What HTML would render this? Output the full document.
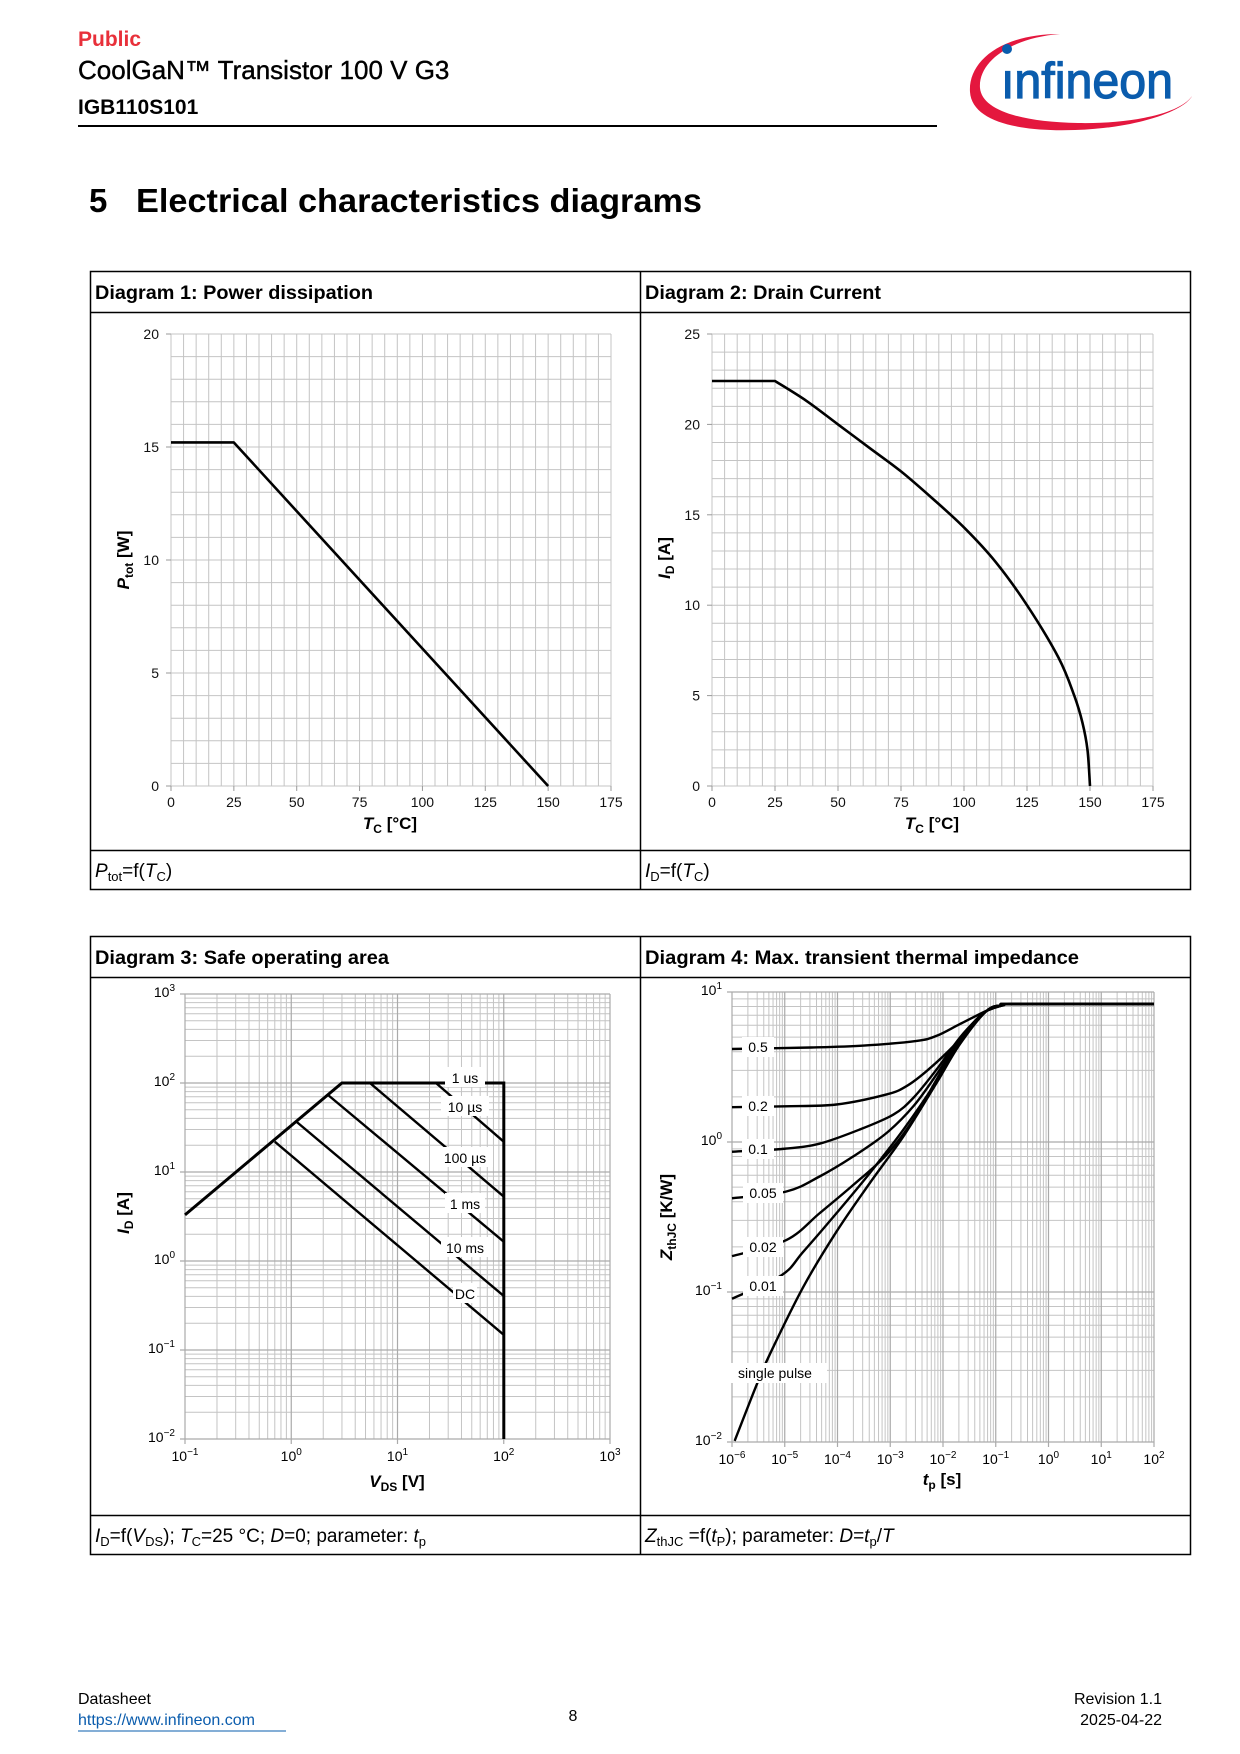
<!DOCTYPE html>
<html><head><meta charset="utf-8"><style>
html,body{margin:0;padding:0;background:#fff;}
svg{display:block;font-family:"Liberation Sans",sans-serif;}
</style></head><body>
<svg id="page" width="1240" height="1754" viewBox="0 0 1240 1754" xmlns="http://www.w3.org/2000/svg">
<text x="78" y="46" font-size="21" font-weight="bold" fill="#e8303a">Public</text>
<text x="78" y="79" font-size="26" fill="#000" stroke="#000" stroke-width="0.4">CoolGaN™ Transistor 100 V G3</text>
<text x="78" y="114" font-size="21" font-weight="bold" fill="#000">IGB110S101</text>
<line x1="78" y1="126" x2="937" y2="126" stroke="#000" stroke-width="2"/>
<g>
<path d="M1060,34 C1000,34 968,62 970,92 C972,122 1020,132 1075,130 C1140,128 1185,110 1192,96 C1180,114 1130,124 1078,123 C1020,122 982,110 980,88 C978,62 1010,38 1060,34 Z" fill="#e4173e"/>
<circle cx="1007" cy="49" r="5" fill="#0a5cad"/>
<text x="1001" y="98" font-size="50" fill="#0a5cad" stroke="#0a5cad" stroke-width="1.2" textLength="172" lengthAdjust="spacingAndGlyphs">ınfineon</text>
</g>
<text x="89" y="212" font-size="33" font-weight="bold">5</text>
<text x="136" y="212" font-size="33" font-weight="bold" textLength="566" lengthAdjust="spacingAndGlyphs">Electrical characteristics diagrams</text>

<g fill="none" stroke="#000" stroke-width="1.5">
<rect x="90.5" y="271.5" width="1100" height="618"/>
<line x1="640.5" y1="271" x2="640.5" y2="890"/>
<line x1="90" y1="312.5" x2="1190" y2="312.5"/>
<line x1="90" y1="850.5" x2="1190" y2="850.5"/>
</g>
<g fill="none" stroke="#000" stroke-width="1.5">
<rect x="90.5" y="936.5" width="1100" height="618"/>
<line x1="640.5" y1="936" x2="640.5" y2="1555"/>
<line x1="90" y1="977.5" x2="1190" y2="977.5"/>
<line x1="90" y1="1515.5" x2="1190" y2="1515.5"/>
</g>
<text x="95" y="299" font-size="19" font-weight="bold" textLength="278" lengthAdjust="spacingAndGlyphs">Diagram 1: Power dissipation</text>
<text x="645" y="299" font-size="19" font-weight="bold" textLength="236" lengthAdjust="spacingAndGlyphs">Diagram 2: Drain Current</text>
<text x="95" y="964" font-size="19" font-weight="bold" textLength="294" lengthAdjust="spacingAndGlyphs">Diagram 3: Safe operating area</text>
<text x="645" y="964" font-size="19" font-weight="bold" textLength="434" lengthAdjust="spacingAndGlyphs">Diagram 4: Max. transient thermal impedance</text>

<text x="95" y="877" font-size="19"><tspan font-style="italic">P</tspan><tspan font-size="13" dy="4">tot</tspan><tspan dy="-4">=f(</tspan><tspan font-style="italic">T</tspan><tspan font-size="13" dy="4">C</tspan><tspan dy="-4">)</tspan></text>
<text x="645" y="877" font-size="19"><tspan font-style="italic">I</tspan><tspan font-size="13" dy="4">D</tspan><tspan dy="-4">=f(</tspan><tspan font-style="italic">T</tspan><tspan font-size="13" dy="4">C</tspan><tspan dy="-4">)</tspan></text>
<text x="95" y="1542" font-size="19"><tspan font-style="italic">I</tspan><tspan font-size="13" dy="4">D</tspan><tspan dy="-4">=f(</tspan><tspan font-style="italic">V</tspan><tspan font-size="13" dy="4">DS</tspan><tspan dy="-4">); </tspan><tspan font-style="italic">T</tspan><tspan font-size="13" dy="4">C</tspan><tspan dy="-4">=25 °C; </tspan><tspan font-style="italic">D</tspan><tspan>=0; parameter: </tspan><tspan font-style="italic">t</tspan><tspan font-size="13" dy="4">p</tspan></text>
<text x="645" y="1542" font-size="19"><tspan font-style="italic">Z</tspan><tspan font-size="13" dy="4">thJC</tspan><tspan dy="-4"> =f(</tspan><tspan font-style="italic">t</tspan><tspan font-size="13" dy="4">P</tspan><tspan dy="-4">); parameter: </tspan><tspan font-style="italic">D</tspan><tspan>=</tspan><tspan font-style="italic">t</tspan><tspan font-size="13" dy="4">p</tspan><tspan dy="-4">/</tspan><tspan font-style="italic">T</tspan></text>

<text x="78" y="1704" font-size="16">Datasheet</text>
<text x="78" y="1725" font-size="16" fill="#0a5cad">https://www.infineon.com</text>
<line x1="78" y1="1731" x2="286" y2="1731" stroke="#0a5cad" stroke-width="1"/>
<text x="573" y="1721" font-size="16" text-anchor="middle">8</text>
<text x="1162" y="1704" font-size="16" text-anchor="end">Revision 1.1</text>
<text x="1162" y="1725" font-size="16" text-anchor="end">2025-04-22</text>
<g id="charts"></g>
</svg>
<script>
// ---- Diagram 1 data ----
const pTempC = [0, 25, 150];
const pTotW = [15.2, 15.2, 0];
const p1XTicks = [0, 25, 50, 75, 100, 125, 150, 175];
const p1YTicks = [0, 5, 10, 15, 20];
// ---- Diagram 2 data ----
const idTempC = [0, 25, 37.5, 50, 62.5, 75, 87.5, 100, 112.5, 125, 137.5, 143.75, 147, 149, 150];
const idAmp = [22.4, 22.4, 21.3, 20, 18.7, 17.4, 15.9, 14.3, 12.4, 10, 7.1, 5, 3.5, 2, 0];
const p2YTicks = [0, 5, 10, 15, 20, 25];
// ---- Diagram 3 data ----
const soaLimitV = [0.1, 3.0, 100, 100];
const soaLimitI = [3.3, 100, 100, 0.01];
const soaLabels = ['10 µs', '100 µs', '1 ms', '10 ms', 'DC'];
const soaStartV = [23, 5.5, 2.22, 1.12, 0.70];
const soaStartI = [100, 100, 73.3, 36.7, 21.9];
const soaEndV = [100, 100, 100, 100, 100];
const soaEndI = [21.9, 5.3, 1.65, 0.405, 0.148];
const soaXExp = [-1, 0, 1, 2, 3];
const soaYExp = [-2, -1, 0, 1, 2, 3];
// ---- Diagram 4 data (log10 values) ----
const zthLabels = ['0.5', '0.2', '0.1', '0.05', '0.02', '0.01', 'single pulse'];
const zthLogT05 = [-6, -4.5, -3.5, -2.5, -2.12, -1.68, -1.17, -0.85, -0.66, 2];
const zthLogZ05 = [0.62, 0.63, 0.643, 0.674, 0.708, 0.786, 0.875, 0.913, 0.92, 0.92];
const zthLogT02 = [-6, -5, -4.02, -3.07, -2.69, -2.31, -1.80, -1.42, -1.17, -0.85, -0.66, 2];
const zthLogZ02 = [0.232, 0.238, 0.25, 0.317, 0.373, 0.473, 0.64, 0.797, 0.875, 0.913, 0.92, 0.92];
const zthLogT01 = [-6, -5, -4.34, -3.58, -2.94, -2.56, -2.12, -1.68, -1.30, -1.17, -0.85, -0.66, 2];
const zthLogZ01 = [-0.065, -0.045, -0.011, 0.083, 0.183, 0.295, 0.484, 0.696, 0.84, 0.875, 0.913, 0.92, 0.92];
const zthLogT005 = [-6, -4.97, -4.34, -3.70, -3.07, -2.56, -2.12, -1.68, -1.17, -0.85, -0.66, 2];
const zthLogZ005 = [-0.375, -0.33, -0.23, -0.096, 0.06, 0.239, 0.451, 0.685, 0.875, 0.913, 0.92, 0.92];
const zthLogT002 = [-6, -4.97, -4.34, -3.70, -3.07, -2.56, -2.12, -1.68, -1.17, -0.85, -0.66, 2];
const zthLogZ002 = [-0.761, -0.654, -0.475, -0.286, -0.085, 0.15, 0.417, 0.674, 0.875, 0.913, 0.92, 0.92];
const zthLogT001 = [-6, -5.06, -4.65, -4.02, -3.39, -2.75, -2.12, -1.68, -1.17, -0.85, -0.66, 2];
const zthLogZ001 = [-1.045, -0.888, -0.732, -0.475, -0.208, 0.083, 0.406, 0.663, 0.875, 0.913, 0.92, 0.92];
const zthLogTsp = [-5.95, -5.54, -5.28, -4.65, -4.02, -3.39, -2.75, -2.12, -1.68, -1.17, -0.85, -0.66, 2];
const zthLogZsp = [-1.993, -1.625, -1.413, -0.967, -0.598, -0.275, 0.038, 0.395, 0.652, 0.875, 0.913, 0.92, 0.92];
const zthXExp = [-6, -5, -4, -3, -2, -1, 0, 1, 2];
const zthYExp = [-2, -1, 0, 1];

const NS = 'http://www.w3.org/2000/svg';
const root = document.getElementById('charts');
function mk(tag, attrs, parent, name) {
  const e = document.createElementNS(NS, tag);
  for (const k in attrs) e.setAttribute(k, attrs[k]);
  
  
  (parent || root).appendChild(e);
  return e;
}
function powLabel(textEl, exp) {
  textEl.innerHTML = '10<tspan font-size="10" dy="-6">' + String(exp).replace('-', '−') + '</tspan>';
}
function smoothPath(pts) {
  let d = 'M' + pts[0][0].toFixed(2) + ',' + pts[0][1].toFixed(2);
  for (let i = 0; i < pts.length - 1; i++) {
    const p0 = pts[i - 1] || pts[i], p1 = pts[i], p2 = pts[i + 1], p3 = pts[i + 2] || p2;
    const c1 = [p1[0] + (p2[0] - p0[0]) / 6, p1[1] + (p2[1] - p0[1]) / 6];
    const c2 = [p2[0] - (p3[0] - p1[0]) / 6, p2[1] - (p3[1] - p1[1]) / 6];
    d += 'C' + c1.map(v=>v.toFixed(2)).join(',') + ' ' + c2.map(v=>v.toFixed(2)).join(',') + ' ' + p2[0].toFixed(2) + ',' + p2[1].toFixed(2);
  }
  return d;
}

function linearChart(cfg) {
  const g = mk('g', {}, root, cfg.name);
  const X = v => cfg.x0 + (v - cfg.xmin) / (cfg.xmax - cfg.xmin) * (cfg.x1 - cfg.x0);
  const Y = v => cfg.y0 - (v - cfg.ymin) / (cfg.ymax - cfg.ymin) * (cfg.y0 - cfg.y1);
  for (let v = cfg.xmin; v <= cfg.xmax; v += cfg.xminor) {
    mk('line', {x1: X(v), x2: X(v), y1: cfg.y1, y2: cfg.y0, stroke: '#c4c4c4', 'stroke-width': 1}, g, 'x-grid-line');
  }
  for (let v = cfg.ymin; v <= cfg.ymax; v += cfg.yminor) {
    mk('line', {x1: cfg.x0, x2: cfg.x1, y1: Y(v), y2: Y(v), stroke: '#c4c4c4', 'stroke-width': 1}, g, 'y-grid-line');
  }
  cfg.xTicks.forEach(t => {
    const e = mk('text', {x: X(t), y: cfg.y0 + 21, 'font-size': 14, 'text-anchor': 'middle', fill: '#111'}, g, 'x-tick-label');
    e.textContent = t;
    mk('line', {x1: X(t), x2: X(t), y1: cfg.y0, y2: cfg.y0 + 5, stroke: '#999'}, g, 'x-tick');
  });
  cfg.yTicks.forEach(t => {
    const e = mk('text', {x: cfg.x0 - 12, y: Y(t) + 5, 'font-size': 14, 'text-anchor': 'end', fill: '#111'}, g, 'y-tick-label');
    e.textContent = t;
    mk('line', {x1: cfg.x0 - 5, x2: cfg.x0, y1: Y(t), y2: Y(t), stroke: '#999'}, g, 'y-tick');
  });
  const pts = cfg.xs.map((v, i) => [X(v), Y(cfg.ys[i])]);
  let d;
  if (cfg.smooth) {
    d = 'M' + pts[0][0] + ',' + pts[0][1] + 'L' + smoothPath(pts.slice(1)).slice(1);
  } else {
    d = 'M' + pts.map(p => p.join(',')).join('L');
  }
  mk('path', {d: d, fill: 'none', stroke: '#000', 'stroke-width': 2.6, 'stroke-linejoin': 'round'}, g, cfg.seriesName);
  return {g, X, Y};
}
linearChart({name: 'power-dissipation-chart', x0: 171, x1: 611, y0: 786, y1: 334, xmin: 0, xmax: 175, ymin: 0, ymax: 20, xminor: 5, yminor: 1, xTicks: p1XTicks, yTicks: p1YTicks, xs: pTempC, ys: pTotW, seriesName: 'ptot-line'});
linearChart({name: 'drain-current-chart', x0: 712, x1: 1153, y0: 786, y1: 334, xmin: 0, xmax: 175, ymin: 0, ymax: 25, xminor: 5, yminor: 1, xTicks: p1XTicks, yTicks: p2YTicks, xs: idTempC, ys: idAmp, smooth: true, seriesName: 'id-curve'});
function axisTitle(x, y, html, rot, name) {
  const t = mk('text', {x: x, y: y, 'font-size': 17, 'font-weight': 'bold', 'text-anchor': 'middle', transform: rot ? 'rotate(-90 ' + x + ' ' + y + ')' : ''}, root, name);
  t.innerHTML = html;
}
axisTitle(390, 829, '<tspan font-style="italic">T</tspan><tspan font-size="12" dy="4">C</tspan><tspan dy="-4"> [°C]</tspan>', false, 'x-axis-title');
axisTitle(129, 560, '<tspan font-style="italic">P</tspan><tspan font-size="12" dy="4">tot</tspan><tspan dy="-4"> [W]</tspan>', true, 'y-axis-title');
axisTitle(932, 829, '<tspan font-style="italic">T</tspan><tspan font-size="12" dy="4">C</tspan><tspan dy="-4"> [°C]</tspan>', false, 'x-axis-title');
axisTitle(670, 558, '<tspan font-style="italic">I</tspan><tspan font-size="12" dy="4">D</tspan><tspan dy="-4"> [A]</tspan>', true, 'y-axis-title');

function logChart(cfg) {
  const g = mk('g', {}, root, cfg.name);
  const ex = cfg.xExp, ey = cfg.yExp;
  const LX = lv => cfg.x0 + (lv - ex[0]) / (ex[ex.length - 1] - ex[0]) * (cfg.x1 - cfg.x0);
  const LY = lv => cfg.y0 - (lv - ey[0]) / (ey[ey.length - 1] - ey[0]) * (cfg.y0 - cfg.y1);
  for (let d = ex[0]; d < ex[ex.length - 1]; d++) for (let k = 2; k <= 9; k++) {
    const xx = LX(d + Math.log10(k));
    mk('line', {x1: xx, x2: xx, y1: cfg.y1, y2: cfg.y0, stroke: '#c4c4c4', 'stroke-width': 1}, g, 'x-minor-grid');
  }
  for (let d = ey[0]; d < ey[ey.length - 1]; d++) for (let k = 2; k <= 9; k++) {
    const yy = LY(d + Math.log10(k));
    mk('line', {x1: cfg.x0, x2: cfg.x1, y1: yy, y2: yy, stroke: '#c4c4c4', 'stroke-width': 1}, g, 'y-minor-grid');
  }
  ex.forEach(d => {
    mk('line', {x1: LX(d), x2: LX(d), y1: cfg.y1, y2: cfg.y0 + 5, stroke: '#aaa', 'stroke-width': 1.2}, g, 'x-major-grid');
    const t = mk('text', {x: LX(d), y: cfg.y0 + 22, 'font-size': 14, 'text-anchor': 'middle'}, g, 'x-tick-label');
    powLabel(t, d);
  });
  ey.forEach(d => {
    mk('line', {x1: cfg.x0 - 5, x2: cfg.x1, y1: LY(d), y2: LY(d), stroke: '#aaa', 'stroke-width': 1.2}, g, 'y-major-grid');
    const t = mk('text', {x: cfg.x0 - 10, y: LY(d) + 3, 'font-size': 14, 'text-anchor': 'end'}, g, 'y-tick-label');
    powLabel(t, d);
  });
  return {g, LX, LY};
}
const c3 = logChart({name: 'safe-operating-area-chart', x0: 185, x1: 610, y0: 1439, y1: 994, xExp: soaXExp, yExp: soaYExp});
const lg = Math.log10;
const X3 = v => c3.LX(lg(v)), Y3 = v => c3.LY(lg(v));
soaLabels.forEach((lab, i) => {
  mk('line', {x1: X3(soaStartV[i]), y1: Y3(soaStartI[i]), x2: X3(soaEndV[i]), y2: Y3(soaEndI[i]), stroke: '#000', 'stroke-width': 2.4}, c3.g, 'soa-line-' + i);
});
mk('path', {d: 'M' + soaLimitV.map((v, i) => X3(v).toFixed(1) + ',' + Y3(soaLimitI[i]).toFixed(1)).join('L'), fill: 'none', stroke: '#000', 'stroke-width': 3}, c3.g, 'soa-limit-line');
const soaAllLabels = ['1 us'].concat(soaLabels);
const soaLabY = [1078, 1107, 1158, 1204, 1248, 1294];
soaAllLabels.forEach((lab, i) => {
  const w = lab.length * 8 + 8;
  mk('rect', {x: 465 - w / 2, y: soaLabY[i] - 11, width: w, height: 20, fill: '#fff'}, c3.g, 'soa-label-bg');
  const t = mk('text', {x: 465, y: soaLabY[i] + 5, 'font-size': 14, 'text-anchor': 'middle'}, c3.g, 'soa-label');
  t.textContent = lab;
});
axisTitle(397, 1487, '<tspan font-style="italic">V</tspan><tspan font-size="12" dy="4">DS</tspan><tspan dy="-4"> [V]</tspan>', false, 'x-axis-title');
axisTitle(129, 1213, '<tspan font-style="italic">I</tspan><tspan font-size="12" dy="4">D</tspan><tspan dy="-4"> [A]</tspan>', true, 'y-axis-title');

const c4 = logChart({name: 'thermal-impedance-chart', x0: 732, x1: 1154, y0: 1442, y1: 992, xExp: zthXExp, yExp: zthYExp});
const zthT = [zthLogT05, zthLogT02, zthLogT01, zthLogT005, zthLogT002, zthLogT001, zthLogTsp];
const zthZ = [zthLogZ05, zthLogZ02, zthLogZ01, zthLogZ005, zthLogZ002, zthLogZ001, zthLogZsp];
zthT.forEach((ts, i) => {
  const pts = ts.map((t, j) => [c4.LX(t), c4.LY(zthZ[i][j])]);
  mk('path', {d: smoothPath(pts), fill: 'none', stroke: '#000', 'stroke-width': 2.4}, c4.g, 'zth-curve-' + zthLabels[i].replace(/[ .]/g, ''));
});
const zthLabPos = [[758, 1047], [758, 1106], [758, 1149], [763, 1193], [763, 1247], [763, 1286], [775, 1373]];
zthLabels.forEach((lab, i) => {
  const w = lab.length * 8 + 8;
  mk('rect', {x: zthLabPos[i][0] - w / 2, y: zthLabPos[i][1] - 10, width: w, height: 20, fill: '#fff'}, c4.g, 'zth-label-bg');
  const t = mk('text', {x: zthLabPos[i][0], y: zthLabPos[i][1] + 5, 'font-size': 14, 'text-anchor': 'middle'}, c4.g, 'zth-label');
  t.textContent = lab;
});
axisTitle(942, 1485, '<tspan font-style="italic">t</tspan><tspan font-size="12" dy="4">p</tspan><tspan dy="-4"> [s]</tspan>', false, 'x-axis-title');
axisTitle(672, 1217, '<tspan font-style="italic">Z</tspan><tspan font-size="12" dy="4">thJC</tspan><tspan dy="-4"> [K/W]</tspan>', true, 'y-axis-title');
</script>
</body></html>
